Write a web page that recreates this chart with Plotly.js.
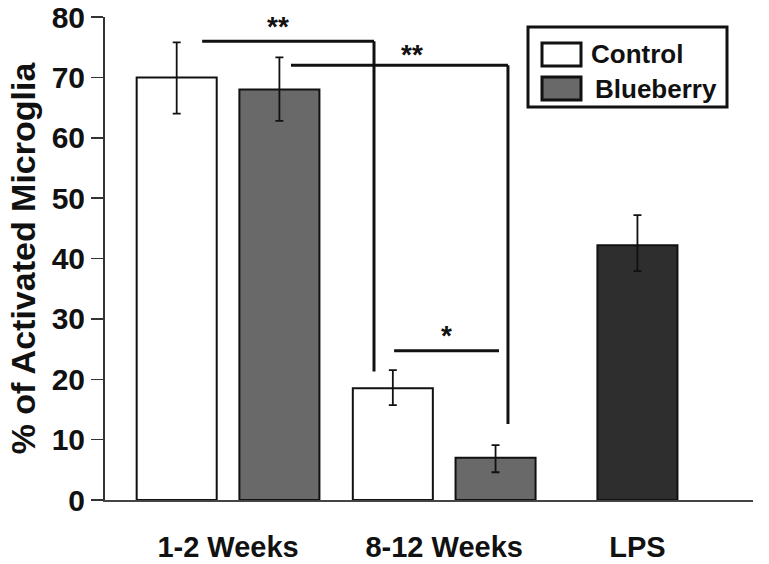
<!DOCTYPE html>
<html>
<head>
<meta charset="utf-8">
<script src="https://cdn.plot.ly/plotly-3.0.1.min.js"></script>
<style>html,body{margin:0;padding:0;background:#fff}#chart{width:769px;height:564px}</style>
</head>
<body>
<div id="chart"></div>
<script>
// ---- data ----
var groups = ["1-2 Weeks", "8-12 Weeks", "LPS"];
var groupPos = [0, 1.01, 1.913];
var controlName = "Control";
var controlValues = [70, 18.5];
var controlErrPlus = [5.8, 3.0];
var controlErrMinus = [6.0, 2.8];
var blueberryName = "Blueberry";
var blueberryValues = [68, 7];
var blueberryErrPlus = [5.3, 2.1];
var blueberryErrMinus = [5.2, 2.4];
var lpsValues = [42.2];
var lpsErrPlus = [5.0];
var lpsErrMinus = [4.3];
var yTicks = [0, 10, 20, 30, 40, 50, 60, 70, 80];
// significance brackets: x in data units, y levels
var sigX0 = [-0.121, 0.294, 0.776];
var sigX1 = [0.682, 1.308, 1.266];
var sigY = [76.0, 72.0, 24.7];
var sigDrop = [21.3, 12.6, null];
var sigLabel = ["**", "**", "*"];
var sigLabelX = [0.234, 0.86, 1.023];
var sigLabelY = [78.4, 73.8, 27.2];

// ---- layout helpers ----
var off = 0.24, bw = 0.374;
var fam = "Liberation Sans, Arial, sans-serif";
function errY(plus, minus) {
  return {type: "data", array: plus, arrayminus: minus, visible: true, color: "#111", thickness: 1.8, width: 4};
}
var traces = [
  {type: "bar", name: controlName, x: groupPos.slice(0, 2).map(function(p){return p - off;}),
   y: controlValues, width: bw, error_y: errY(controlErrPlus, controlErrMinus),
   marker: {color: "#ffffff", line: {color: "#111", width: 2}}, showlegend: false, hoverinfo: "y"},
  {type: "bar", name: blueberryName, x: groupPos.slice(0, 2).map(function(p){return p + off;}),
   y: blueberryValues, width: bw, error_y: errY(blueberryErrPlus, blueberryErrMinus),
   marker: {color: "#696969", line: {color: "#111", width: 2}}, showlegend: false, hoverinfo: "y"},
  {type: "bar", name: groups[2], x: [groupPos[2]],
   y: lpsValues, width: bw, error_y: errY(lpsErrPlus, lpsErrMinus),
   marker: {color: "#2e2e2e", line: {color: "#111", width: 2}}, showlegend: false, hoverinfo: "y"}
];

var shapes = [], annotations = [];
for (var i = 0; i < sigY.length; i++) {
  shapes.push({type: "line", xref: "x", yref: "y", x0: sigX0[i], x1: sigX1[i], y0: sigY[i], y1: sigY[i],
    line: {color: "#111", width: 3}});
  if (sigDrop[i] !== null) {
    shapes.push({type: "line", xref: "x", yref: "y", x0: sigX1[i], x1: sigX1[i], y0: sigY[i], y1: sigDrop[i],
      line: {color: "#111", width: 3}});
  }
  annotations.push({xref: "x", yref: "y", x: sigLabelX[i], y: sigLabelY[i], text: sigLabel[i], showarrow: false,
    font: {family: fam, size: 28, color: "#111", weight: "bold"}});
}
// custom legend (paper coordinates)
var TOP = 17, BOT = 500, LEFT = 105, RIGHT = 753;
function px2x(p) { return (p - LEFT) / (RIGHT - LEFT); }
function py2y(p) { return (BOT - p) / (BOT - TOP); }
shapes.push({type: "rect", xref: "paper", yref: "paper", x0: px2x(528), x1: px2x(727), y0: py2y(107), y1: py2y(27),
  line: {color: "#111", width: 3}, fillcolor: "rgba(255,255,255,0)"});
shapes.push({type: "rect", xref: "paper", yref: "paper", x0: px2x(542), x1: px2x(581), y0: py2y(66), y1: py2y(43),
  line: {color: "#111", width: 3}, fillcolor: "#ffffff"});
shapes.push({type: "rect", xref: "paper", yref: "paper", x0: px2x(542), x1: px2x(581), y0: py2y(100), y1: py2y(77),
  line: {color: "#111", width: 3}, fillcolor: "#696969"});
annotations.push({xref: "paper", yref: "paper", x: px2x(589), y: py2y(54), xanchor: "left", yanchor: "middle",
  text: controlName, showarrow: false, font: {family: fam, size: 26, color: "#111", weight: "bold"}});
annotations.push({xref: "paper", yref: "paper", x: px2x(593), y: py2y(89), xanchor: "left", yanchor: "middle",
  text: blueberryName, showarrow: false, font: {family: fam, size: 26, color: "#111", weight: "bold"}});

var layout = {
  width: 769, height: 564,
  margin: {l: LEFT, r: 769 - RIGHT, t: TOP, b: 564 - BOT},
  paper_bgcolor: "#fff", plot_bgcolor: "#fff",
  showlegend: false,
  bargap: 0,
  xaxis: {range: [-0.575, 2.453], tickvals: groupPos, ticktext: groups, showgrid: false, zeroline: false,
    showline: true, linecolor: "#444", linewidth: 2, ticks: "", ticklabelstandoff: 20, automargin: false,
    ticklabeloverflow: "allow",
    tickfont: {family: fam, size: 29, color: "#111", weight: "bold"}, fixedrange: true},
  yaxis: {range: [0, 80], tickvals: yTicks, showgrid: false, zeroline: false,
    showline: true, linecolor: "#333", linewidth: 2, ticks: "outside", ticklen: 12, tickwidth: 1.5, tickcolor: "#333",
    ticklabelstandoff: 0, automargin: false, ticklabeloverflow: "allow",
    tickfont: {family: fam, size: 30, color: "#111", weight: "bold"},
    title: {text: "% of Activated Microglia", standoff: 6, font: {family: fam, size: 34, color: "#111", weight: "bold"}}},
  shapes: shapes,
  annotations: annotations,
  font: {family: fam}
};
Plotly.newPlot("chart", traces, layout, {displayModeBar: false, staticPlot: true});
</script>
</body>
</html>
